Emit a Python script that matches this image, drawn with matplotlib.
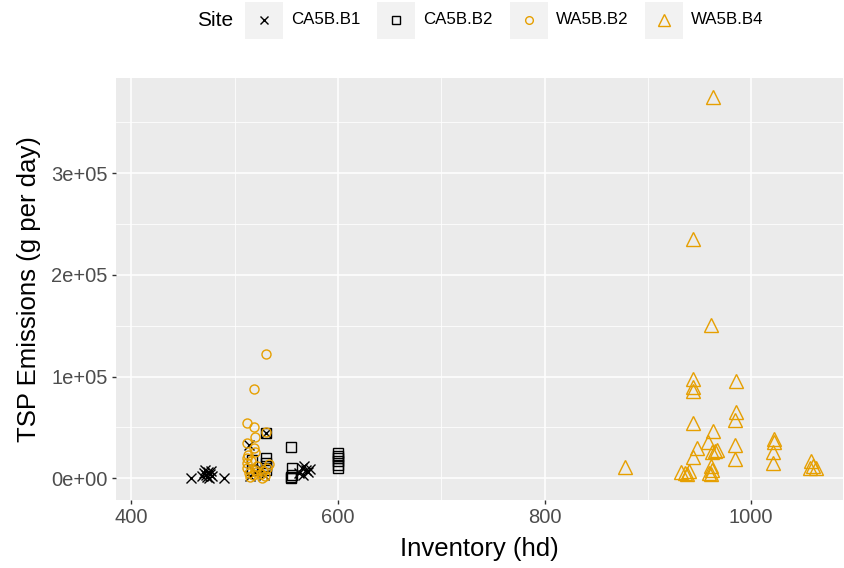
import matplotlib.pyplot as plt
from matplotlib.patches import Rectangle
from matplotlib.lines import Line2D
import numpy as np

plt.rcParams['font.family'] = ['Liberation Sans', 'DejaVu Sans']

# data
sites = ["CA5B.B1", "CA5B.B2", "WA5B.B2", "WA5B.B4"]

ca_b1_x = [458, 468, 470, 471, 472, 473, 474, 475, 476, 477, 478, 490,
           514, 530, 515, 520, 525, 528,
           562, 565, 567, 569, 571, 573, 566]
ca_b1_y = [0, 2000, 5000, 8000, 3000, 1000, 6000, 0, 4000, 7000, 2000, 0,
           32700, 44200, 2000, 6000, 9000, 3000,
           5000, 10000, 12000, 8000, 6000, 9000, 3000]

ca_b2_x = [530, 554, 530, 517, 555, 554, 554, 555, 600, 600, 600, 600, 600, 600, 530, 530, 530, 517]
ca_b2_y = [44200, 30500, 19700, 18000, 9800, 0, 1500, 3000, 25000, 22000, 20000, 17000, 13000, 10000,
           8000, 12000, 15000, 8000]

wa_b2_x = [530, 518.5, 512, 519, 530, 520, 512, 519, 520, 512, 512, 512, 514, 515, 518, 520,
           522, 525, 527, 529, 531, 533, 516, 513, 526, 521]
wa_b2_y = [122000, 87500, 54700, 50800, 45800, 40900, 35000, 29500, 26300, 20000, 15000, 10000,
           5000, 1000, 3000, 8000, 12000, 4000, 7000, 2000, 10000, 14000, 17000, 23000, 500, 6500]

wa_b4_x = [963, 944, 961, 944, 944, 944, 985, 985, 984, 944, 963, 958, 948, 944, 965, 967, 962,
           984, 984, 1022, 1022, 1021, 1021, 1058, 1060, 1063, 1057, 878, 932, 936, 940, 938,
           961, 962, 959, 961]
wa_b4_y = [375000, 235000, 151000, 98000, 90000, 86000, 95500, 65000, 57500, 54500, 46500, 36000,
           29500, 21000, 27000, 28000, 25500, 32500, 19500, 39000, 36000, 26000, 15500, 17000,
           12000, 10500, 10000, 11500, 6500, 5500, 7000, 4500, 12000, 8000, 5000, 4500]

x_ticks = [400, 600, 800, 1000]
y_ticks = [0, 100000, 200000, 300000]
y_tick_labels = ["0e+00", "1e+05", "2e+05", "3e+05"]

orange = "#E69F00"
styles = [("x", "black"), ("s", "black"), ("o", orange), ("^", orange)]
sizes = [7.5, 6.5, 6.5, 9.5]

fig = plt.figure(figsize=(8.45, 5.68), dpi=100)
ax = fig.add_axes([116 / 845, 68 / 568, 727 / 845, 422 / 568])
ax.set_facecolor("#EBEBEB")
for s in ax.spines.values():
    s.set_visible(False)

all_x = [ca_b1_x, ca_b2_x, wa_b2_x, wa_b4_x]
all_y = [ca_b1_y, ca_b2_y, wa_b2_y, wa_b4_y]
for i in range(4):
    m, c = styles[i]
    ax.plot(all_x[i], all_y[i], linestyle="none", marker=m, markersize=sizes[i],
            markerfacecolor="none", markeredgecolor=c, markeredgewidth=1.0, label=sites[i])

ax.set_xlim(385, 1089)
ax.set_ylim(-21300, 393600)
ax.set_xticks(x_ticks)
ax.set_yticks(y_ticks)
ax.set_yticklabels(y_tick_labels)
ax.set_xticks([500, 700, 900], minor=True)
ax.set_yticks([50000, 150000, 250000, 350000], minor=True)
ax.grid(which="major", color="white", linewidth=1.1)
ax.grid(which="minor", color="white", linewidth=0.55)
ax.set_axisbelow(True)
ax.tick_params(which="major", length=3, width=1, color="#333333", labelcolor="#4D4D4D",
               labelsize=14.5, pad=3)
ax.tick_params(which="minor", length=0)
ax.set_xlabel("Inventory (hd)", fontsize=18.5, color="black", labelpad=7)
ax.set_ylabel("TSP Emissions (g per day)", fontsize=18.5, color="black", labelpad=7)

# legend on top, drawn by hand to get the ggplot look
fig.text(215 / 845, 1 - 20 / 568, "Site", fontsize=15, ha="center", va="center")
box_left = [245, 377, 510, 645]
for i in range(4):
    bx = box_left[i] / 845
    fig.patches.append(Rectangle((bx, 1 - 39 / 568), 38 / 845, 37 / 568,
                                 transform=fig.transFigure, facecolor="#F2F2F2",
                                 edgecolor="none"))
    m, c = styles[i]
    fig.lines.append(Line2D([bx + 19 / 845], [1 - 20 / 568], transform=fig.transFigure,
                            marker=m, markersize=sizes[i] * 0.85, markerfacecolor="none",
                            markeredgecolor=c, markeredgewidth=1.0, linestyle="none"))
    fig.text(bx + 46 / 845, 1 - 20 / 568, sites[i], fontsize=12.2, ha="left", va="center")

fig.savefig("out.png", dpi=100)
